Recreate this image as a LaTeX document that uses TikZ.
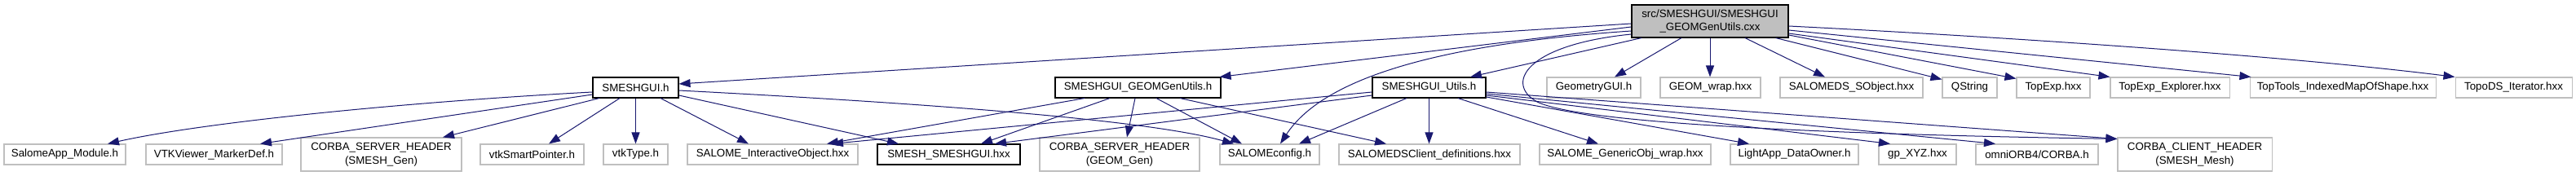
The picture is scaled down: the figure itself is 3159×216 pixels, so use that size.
\documentclass[tikz,border=0pt]{standalone}
\usepackage{fontspec}
\setmainfont{Liberation Sans}
\usetikzlibrary{arrows.meta,calc}
\definecolor{edgecol}{HTML}{191970}
\definecolor{boxgray}{HTML}{BFBFBF}
\newcommand\nodefont{\fontsize{10}{12.5}\selectfont}
\tikzset{
  box/.style={draw=boxgray, line width=0.8pt, inner sep=0pt, minimum height=18.75pt, align=center, font=\nodefont, text=black},
  dark/.style={draw=black},
  bw/.style={minimum width=#1*0.75pt},
  tall/.style={minimum height=30.75pt},
  conn/.style={draw=edgecol, line width=0.75pt, -{Triangle[length=10.5pt,width=7.5pt]}}
}
\begin{document}
\begin{tikzpicture}[x=0.75pt,y=-0.75pt]
\fill[white] (0,0) rectangle (3159,216);
\useasboundingbox (0,0) rectangle (3159,216);
% top
\node[box, dark, fill=boxgray, bw=192, minimum height=30pt] (cxx) at (2097,26) {src/SMESHGUI/SMESHGUI\\\_GEOMGenUtils.cxx};
% middle row
\node[box, dark, bw=105] (gui) at (779.5,107.5) {SMESHGUI.h};
\node[box, dark, bw=203] (geomh) at (1395.5,107.5) {SMESHGUI\_GEOMGenUtils.h};
\node[box, dark, bw=139] (utils) at (1752.5,107.5) {SMESHGUI\_Utils.h};
\node[box, bw=115] (geomgui) at (1954.5,107.5) {GeometryGUI.h};
\node[box, bw=123] (geomwrap) at (2097.5,107.5) {GEOM\_wrap.hxx};
\node[box, bw=175] (sobj) at (2270.5,107.5) {SALOMEDS\_SObject.hxx};
\node[box, bw=67] (qstr) at (2415.5,107.5) {QString};
\node[box, bw=90] (topexp) at (2518,107.5) {TopExp.hxx};
\node[box, bw=146] (topexpl) at (2661,107.5) {TopExp\_Explorer.hxx};
\node[box, bw=228] (toptools) at (2873,107.5) {TopTools\_IndexedMapOfShape.hxx};
\node[box, bw=143] (topods) at (3082.5,107.5) {TopoDS\_Iterator.hxx};
% bottom row
\node[box, bw=149] (salapp) at (79.5,189.5) {SalomeApp\_Module.h};
\node[box, bw=167] (vtkmark) at (262.5,189.5) {VTKViewer\_MarkerDef.h};
\node[box, bw=197, tall] (corbasmesh) at (467.5,189.5) {CORBA\_SERVER\_HEADER\\(SMESH\_Gen)};
\node[box, bw=127] (vtksp) at (652.5,189.5) {vtkSmartPointer.h};
\node[box, bw=79] (vtktype) at (779.5,189.5) {vtkType.h};
\node[box, bw=209] (sio) at (947.5,189.5) {SALOME\_InteractiveObject.hxx};
\node[box, dark, bw=175] (smeshgui) at (1163.5,189.5) {SMESH\_SMESHGUI.hxx};
\node[box, bw=196, tall] (corbageom) at (1373,189.5) {CORBA\_SERVER\_HEADER\\(GEOM\_Gen)};
\node[box, bw=122] (salconf) at (1557,189.5) {SALOMEconfig.h};
\node[box, bw=222] (sdsclient) at (1753,189.5) {SALOMEDSClient\_definitions.hxx};
\node[box, bw=210] (genobj) at (1993,189.5) {SALOME\_GenericObj\_wrap.hxx};
\node[box, bw=157] (lightapp) at (2200.5,189.5) {LightApp\_DataOwner.h};
\node[box, bw=95] (gpxyz) at (2351.5,189.5) {gp\_XYZ.hxx};
\node[box, bw=150] (omni) at (2498,189.5) {omniORB4/CORBA.h};
\node[box, bw=189, tall] (corbamesh) at (2691.5,189.5) {CORBA\_CLIENT\_HEADER\\(SMESH\_Mesh)};
% edges from cxx
\draw[conn] ($(cxx.west)+(0,3)$) -- ($(gui.east)+(0,-4.5)$);
\draw[conn] ($(cxx.west)+(0,7)$) -- ($(geomh.north east)+(-2,0)$);
\draw[conn] ($(cxx.west)+(0,12)$) .. controls (1750,55) and (1620,100) .. ($(salconf.north)+(13,0)$);
\draw[conn] ($(cxx.west)+(0,16)$) .. controls (1870,55) and (1845,103) .. (1885,125) .. controls (1940,152) and (2250,165) .. ($(corbamesh.north west)+(0,2)$);
\draw[conn] ($(cxx.south)+(-84,0)$) -- ($(utils.north)+(50.5,0)$);
\draw[conn] ($(cxx.south)+(-35,0)$) -- ($(geomgui.north)+(25.5,0)$);
\draw[conn] (cxx.south) -- (cxx.south |- geomwrap.north);
\draw[conn] ($(cxx.south)+(43,0)$) -- ($(sobj.north)+(-32.5,0)$);
\draw[conn] ($(cxx.south east)+(-16,0)$) -- ($(qstr.north west)+(0,3)$);
\draw[conn] ($(cxx.east)+(0,17)$) -- ($(topexp.north west)+(0,2)$);
\draw[conn] ($(cxx.east)+(0,15)$) -- (topexpl.north west);
\draw[conn] ($(cxx.east)+(0,11)$) -- ($(toptools.north west)+(2,0)$);
\draw[conn] ($(cxx.east)+(0,6)$) .. controls (2450,45) and (2800,68) .. (topods.north west);
% edges from SMESHGUI.h
\draw[conn] ($(gui.west)+(0,5.5)$) .. controls (500,125) and (250,150) .. ($(salapp.north)+(52.5,0)$);
\draw[conn] ($(gui.west)+(0,8.5)$) -- ($(vtkmark.north)+(56.5,0)$);
\draw[conn] ($(gui.south)+(-44.5,0)$) -- ($(corbasmesh.north)+(75.5,0)$);
\draw[conn] ($(gui.south)+(-19.5,0)$) -- ($(vtksp.north)+(20.5,0)$);
\draw[conn] (gui.south) -- (vtktype.north);
\draw[conn] ($(gui.south)+(30.5,0)$) -- ($(sio.north)+(-29.5,0)$);
\draw[conn] ($(gui.east)+(0,9.5)$) -- ($(smeshgui.north)+(-61.5,0)$);
\draw[conn] ($(gui.east)+(0,3.5)$) .. controls (1100,125) and (1400,145) .. ($(salconf.north)+(-44,0)$);
% edges from SMESHGUI_GEOMGenUtils.h
\draw[conn] ($(geomh.south)+(-65.5,0)$) -- ($(sio.north)+(66.5,0)$);
\draw[conn] ($(geomh.south)+(-34.5,0)$) -- ($(smeshgui.north)+(39.5,0)$);
\draw[conn] ($(geomh.south)+(-3.5,0)$) -- ($(corbageom.north)+(9,0)$);
\draw[conn] ($(geomh.south)+(22.5,0)$) -- ($(salconf.north)+(-34,0)$);
\draw[conn] ($(geomh.south)+(51.5,0)$) -- ($(sdsclient.north)+(-53,0)$);
% edges from SMESHGUI_Utils.h
\draw[conn] ($(utils.west)+(0,5.5)$) -- ($(sio.north)+(72.5,0)$);
\draw[conn] ($(utils.west)+(0,9.5)$) -- ($(smeshgui.north)+(56.5,0)$);
\draw[conn] ($(utils.south)+(-27.5,0)$) -- ($(salconf.north)+(36,0)$);
\draw[conn] (utils.south) -- (utils.south |- sdsclient.north);
\draw[conn] ($(utils.south)+(35.5,0)$) -- ($(genobj.north)+(-33,0)$);
\draw[conn] ($(utils.east)+(0,11.5)$) -- ($(lightapp.north)+(-55.5,0)$);
\draw[conn] ($(utils.east)+(0,9.5)$) -- ($(gpxyz.north)+(-33.5,0)$);
\draw[conn] ($(utils.east)+(0,7.5)$) -- ($(omni.north)+(-51,0)$);
\draw[conn] ($(utils.east)+(0,5.5)$) -- ($(corbamesh.north west)+(0,2)$);
\end{tikzpicture}
\end{document}
